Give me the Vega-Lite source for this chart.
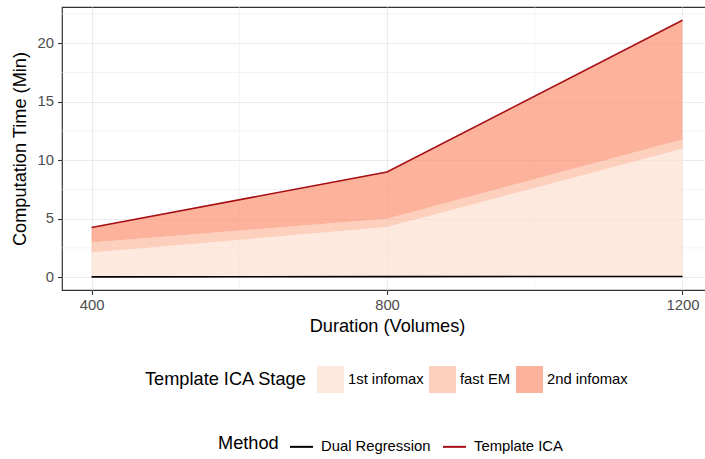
{
  "$schema": "https://vega.github.io/schema/vega-lite/v6.json",
  "width": 650,
  "height": 283,
  "autosize": {"type": "none"},
  "padding": {"left": 62, "top": 7, "right": -7, "bottom": 169},
  "background": "white",
  "config": {
    "font": "Liberation Sans",
    "view": {"stroke": "#333333", "strokeWidth": 1.2},
    "axis": {
      "domain": false,
      "gridColor": "#EBEBEB",
      "gridWidth": 1.1,
      "tickColor": "#333333",
      "tickSize": 4.5,
      "tickWidth": 1.1,
      "labelColor": "#4D4D4D",
      "labelFont": "Liberation Sans",
      "labelFontSize": 14.8,
      "titleFont": "Liberation Sans",
      "titleFontSize": 18.2,
      "titleFontWeight": "normal",
      "titleColor": "#000000"
    },
    "legend": {
      "labelFont": "Liberation Sans",
      "labelFontSize": 14.8,
      "labelColor": "#000000",
      "titleFont": "Liberation Sans",
      "titleFontSize": 18.2,
      "titleFontWeight": "normal",
      "titleColor": "#000000"
    }
  },
  "datasets": {
    "stages": [
      {"duration": 400, "stage": "1st infomax", "k": 1, "time": 2.1},
      {"duration": 400, "stage": "fast EM", "k": 2, "time": 0.86},
      {"duration": 400, "stage": "2nd infomax", "k": 3, "time": 1.29},
      {"duration": 800, "stage": "1st infomax", "k": 1, "time": 4.28},
      {"duration": 800, "stage": "fast EM", "k": 2, "time": 0.71},
      {"duration": 800, "stage": "2nd infomax", "k": 3, "time": 4.0},
      {"duration": 1200, "stage": "1st infomax", "k": 1, "time": 10.98},
      {"duration": 1200, "stage": "fast EM", "k": 2, "time": 0.78},
      {"duration": 1200, "stage": "2nd infomax", "k": 3, "time": 10.21}
    ],
    "methods": [
      {"duration": 400, "method": "Dual Regression", "time": 0.02},
      {"duration": 800, "method": "Dual Regression", "time": 0.04},
      {"duration": 1200, "method": "Dual Regression", "time": 0.06},
      {"duration": 400, "method": "Template ICA", "time": 4.25},
      {"duration": 800, "method": "Template ICA", "time": 8.99},
      {"duration": 1200, "method": "Template ICA", "time": 21.97}
    ],
    "minorY": [{"v": 2.5}, {"v": 7.5}, {"v": 12.5}, {"v": 17.5}, {"v": 22.5}],
    "minorX": [{"v": 600}, {"v": 1000}]
  },
  "layer": [
    {
      "data": {"name": "minorY"},
      "mark": {"type": "rule", "color": "#EBEBEB", "strokeWidth": 0.6},
      "encoding": {
        "y": {"field": "v", "type": "quantitative", "scale": {"domain": [-1.1, 23.1], "nice": false, "zero": false}}
      }
    },
    {
      "data": {"name": "minorX"},
      "mark": {"type": "rule", "color": "#EBEBEB", "strokeWidth": 0.6},
      "encoding": {
        "x": {"field": "v", "type": "quantitative", "scale": {"domain": [360, 1240], "nice": false, "zero": false}}
      }
    },
    {
      "data": {"name": "stages"},
      "mark": {"type": "area", "opacity": 0.7},
      "encoding": {
        "x": {
          "field": "duration", "type": "quantitative",
          "scale": {"domain": [360, 1240], "nice": false, "zero": false},
          "axis": {"values": [400, 800, 1200], "format": "d", "title": "Duration (Volumes)", "labelPadding": 3, "titlePadding": 5}
        },
        "y": {
          "field": "time", "type": "quantitative", "stack": "zero",
          "scale": {"domain": [-1.1, 23.1], "nice": false, "zero": false},
          "axis": {"values": [0, 5, 10, 15, 20], "title": "Computation Time (Min)", "labelPadding": 4, "titlePadding": 8}
        },
        "fill": {
          "field": "stage", "type": "nominal",
          "scale": {"domain": ["1st infomax", "fast EM", "2nd infomax"], "range": ["#FEE0D2", "#FCBBA1", "#FC9272"]},
          "legend": {
            "title": "Template ICA Stage",
            "orient": "none", "legendX": 83, "legendY": 359,
            "direction": "horizontal", "titleOrient": "left", "titlePadding": 10,
            "symbolType": "square", "symbolSize": 729, "symbolStrokeWidth": 0,
            "labelOffset": 4, "columnPadding": 5
          }
        },
        "order": {"field": "k", "type": "quantitative"}
      }
    },
    {
      "data": {"name": "methods"},
      "mark": {"type": "line", "strokeWidth": 1.6},
      "encoding": {
        "x": {"field": "duration", "type": "quantitative"},
        "y": {"field": "time", "type": "quantitative"},
        "stroke": {
          "field": "method", "type": "nominal",
          "scale": {"domain": ["Dual Regression", "Template ICA"], "range": ["#000000", "#A50F15"]},
          "legend": {
            "title": "Method",
            "orient": "none", "legendX": 156, "legendY": 427,
            "direction": "horizontal", "titleOrient": "left", "titlePadding": 10,
            "symbolType": "stroke", "symbolSize": 529, "symbolStrokeWidth": 2,
            "labelOffset": 7, "columnPadding": 8
          }
        }
      }
    }
  ]
}
